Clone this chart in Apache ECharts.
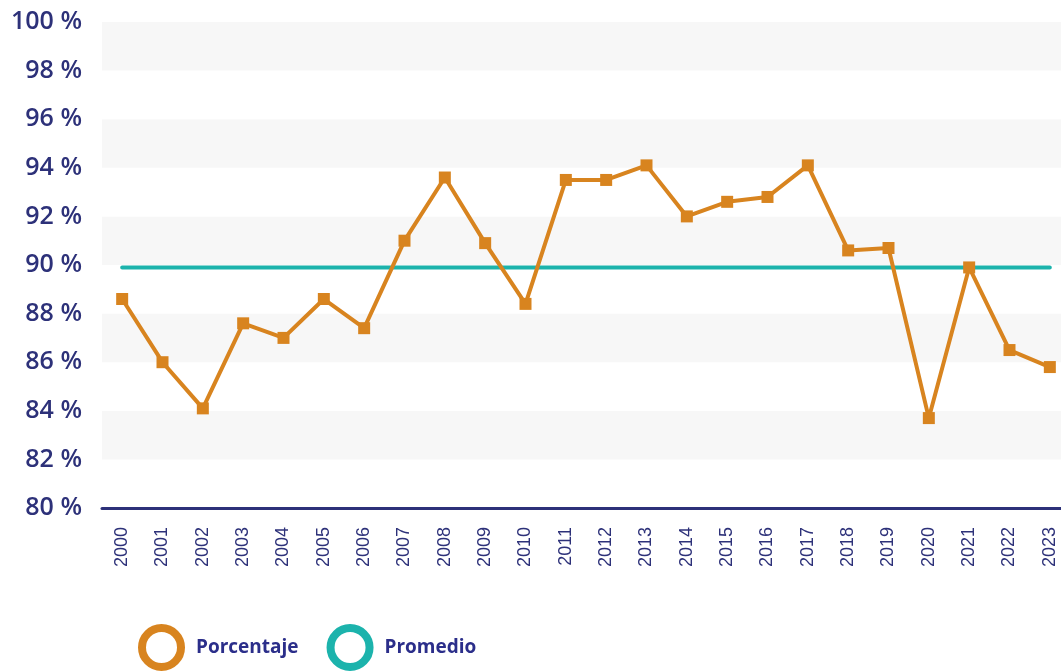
<!DOCTYPE html>
<html>
<head>
<meta charset="utf-8">
<script src="https://cdn.jsdelivr.net/npm/echarts@6/dist/echarts.min.js"></script>
<style>
html,body{margin:0;padding:0;background:#fff;}
#chart{width:1061px;height:672px;}
</style>
</head>
<body>
<div id="chart"></div>
<script>
const years = ['2000','2001','2002','2003','2004','2005','2006','2007','2008','2009','2010','2011','2012','2013','2014','2015','2016','2017','2018','2019','2020','2021','2022','2023'];
const porcentaje = [88.6,86.0,84.1,87.6,87.0,88.6,87.4,91.0,93.6,90.9,88.4,93.5,93.5,94.1,92.0,92.6,92.8,94.1,90.6,90.7,83.7,89.9,86.5,85.8];
const promedio = [89.9,89.9,89.9,89.9,89.9,89.9,89.9,89.9,89.9,89.9,89.9,89.9,89.9,89.9,89.9,89.9,89.9,89.9,89.9,89.9,89.9,89.9,89.9,89.9];
const seriesNames = ['Porcentaje','Promedio'];

const navy = '#2d3179';
const orange = '#d8841f';
const teal = '#1cb3ac';

const chart = echarts.init(document.getElementById('chart'), null, {renderer:'canvas'});
chart.setOption({
  animation: false,
  backgroundColor: '#fff',
  grid: {left: 102, width: 968, top: 22, bottom: 164, containLabel: false, outerBoundsMode: 'none'},
  legend: {
    left: 133, top: 619,
    itemWidth: 39, itemHeight: 39, itemGap: 28,
    icon: 'circle',
    data: [
      {name: seriesNames[0], itemStyle: {color: '#fff', borderColor: orange, borderWidth: 8}},
      {name: seriesNames[1], itemStyle: {color: '#fff', borderColor: teal, borderWidth: 8}}
    ],
    textStyle: {color: '#2b2e8a', fontFamily: 'Open Sans', fontWeight: 700, fontSize: 19, padding: [0,0,0,10]}
  },
  xAxis: {
    type: 'category',
    data: years,
    boundaryGap: true,
    axisLine: {show: true, lineStyle: {color: navy, width: 3}},
    axisTick: {show: false},
    axisLabel: {rotate: 90, margin: 19, color: navy, fontFamily: 'Liberation Sans', fontSize: 18, interval: 0}
  },
  yAxis: {
    type: 'value',
    min: 80, max: 100, interval: 2,
    axisLine: {show: false},
    axisTick: {show: false},
    splitLine: {show: false},
    splitArea: {show: true, areaStyle: {color: ['#ffffff', '#f7f7f7']}},
    axisLabel: {
      margin: 20, color: navy, fontFamily: 'Open Sans', fontWeight: 600, fontSize: 25,
      formatter: v => v + ' %'
    }
  },
  series: [
    {
      name: seriesNames[0], type: 'line', data: porcentaje, z: 3,
      symbol: 'rect', symbolSize: 12,
      itemStyle: {color: orange},
      lineStyle: {color: orange, width: 4}
    },
    {
      name: seriesNames[1], type: 'line', data: promedio, z: 2,
      symbol: 'none',
      itemStyle: {color: teal},
      lineStyle: {color: teal, width: 4, cap: 'round'}
    }
  ]
});
</script>
</body>
</html>
